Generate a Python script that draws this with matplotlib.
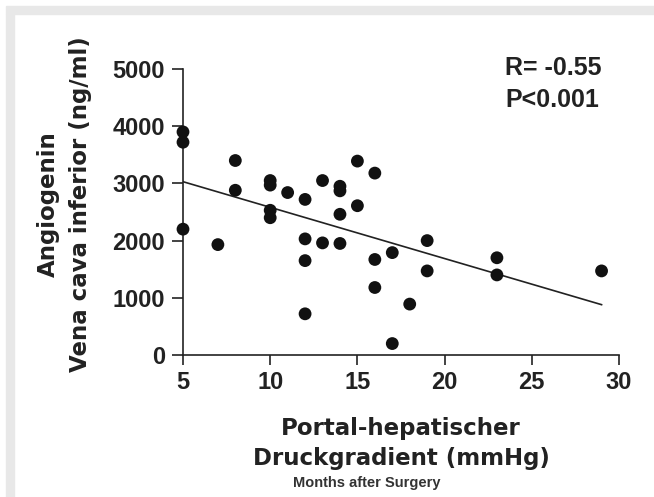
#!/usr/bin/env python3
import numpy as np
import matplotlib
matplotlib.use('Agg')
import matplotlib.pyplot as plt
from matplotlib.patches import Rectangle

# portal-hepatic pressure gradient (mmHg) and angiogenin (ng/ml)
gradient = [5, 5, 5, 7, 8, 8, 10, 10, 10, 10, 11, 12, 12, 12, 12, 13, 13,
            14, 14, 14, 14, 15, 15, 16, 16, 16, 17, 17, 18, 19, 19, 23, 23, 29]
angiogenin = [3900, 3720, 2200, 1930, 3400, 2880, 3050, 2970, 2530, 2400,
              2840, 2720, 2030, 1650, 720, 3050, 1960, 2950, 2870, 2460, 1950,
              3390, 2610, 3180, 1670, 1180, 1790, 200, 890, 2000, 1470, 1700,
              1400, 1470]

# regression line end points
fit_x = [5, 29]
fit_y = [3030, 880]

x_ticks = [5, 10, 15, 20, 25, 30]
y_ticks = [0, 1000, 2000, 3000, 4000, 5000]

W, H = 654, 497


def fx(px):
    return px / W


def fy(py):
    return 1 - py / H


def main():
    fig = plt.figure(figsize=(W / 100, H / 100), dpi=100)
    fig.patch.set_facecolor('white')

    # light grey frame on top and left
    grey = '#e8e8e8'
    fig.patches.append(Rectangle((fx(6), fy(14)), 1 - fx(6), fy(6) - fy(14),
                                 transform=fig.transFigure, color=grey, zorder=0))
    fig.patches.append(Rectangle((fx(6), 0), fx(14) - fx(6), fy(14),
                                 transform=fig.transFigure, color=grey, zorder=0))

    ax = fig.add_axes([fx(183), fy(355), fx(619) - fx(183), fy(69) - fy(355)])
    ax.set_facecolor('none')

    ax.plot(fit_x, fit_y, color='#222222', lw=1.2, zorder=2)
    ax.scatter(gradient, angiogenin, s=85, color='#111111', edgecolor='none',
               zorder=3, clip_on=False)

    ax.set_xlim(5, 30)
    ax.set_ylim(0, 5000)
    ax.set_xticks(x_ticks)
    ax.set_yticks(y_ticks)

    for side in ['top', 'right']:
        ax.spines[side].set_visible(False)
    for side in ['left', 'bottom']:
        ax.spines[side].set_linewidth(1.2)
        ax.spines[side].set_color('#222222')

    tick_font = dict(family='Liberation Sans', weight='bold', size=17)
    ax.tick_params(axis='y', direction='out', length=8, width=1.2,
                   pad=5, colors='#222222')
    ax.tick_params(axis='x', direction='out', length=7.5, width=1.2,
                   pad=4, colors='#222222')
    for lab in ax.get_xticklabels() + ax.get_yticklabels():
        lab.set_fontproperties(matplotlib.font_manager.FontProperties(**tick_font))

    # axis titles
    lab_font = dict(family='DejaVu Sans', weight='bold', size=16.5, color='#222222')
    fig.text(fx(48), fy(204), 'Angiogenin', rotation=90,
             ha='center', va='center', **lab_font)
    fig.text(fx(81), fy(204), 'Vena cava inferior (ng/ml)', rotation=90,
             ha='center', va='center', **lab_font)
    fig.text(fx(401), fy(435), 'Portal-hepatischer',
             ha='center', va='baseline', **lab_font)
    fig.text(fx(401), fy(465), 'Druckgradient (mmHg)',
             ha='center', va='baseline', **lab_font)

    fig.text(fx(367), fy(487), 'Months after Surgery', ha='center',
             va='baseline', family='Liberation Sans', weight='bold',
             size=10.5, color='#333333')

    stat_font = dict(family='Liberation Sans', weight='bold', size=18,
                     color='#222222')
    fig.text(fx(505), fy(75), 'R= -0.55', ha='left', va='baseline', **stat_font)
    fig.text(fx(505), fy(107), 'P<0.001', ha='left', va='baseline', **stat_font)

    fig.savefig('out.png', dpi=100)


if __name__ == '__main__':
    main()
